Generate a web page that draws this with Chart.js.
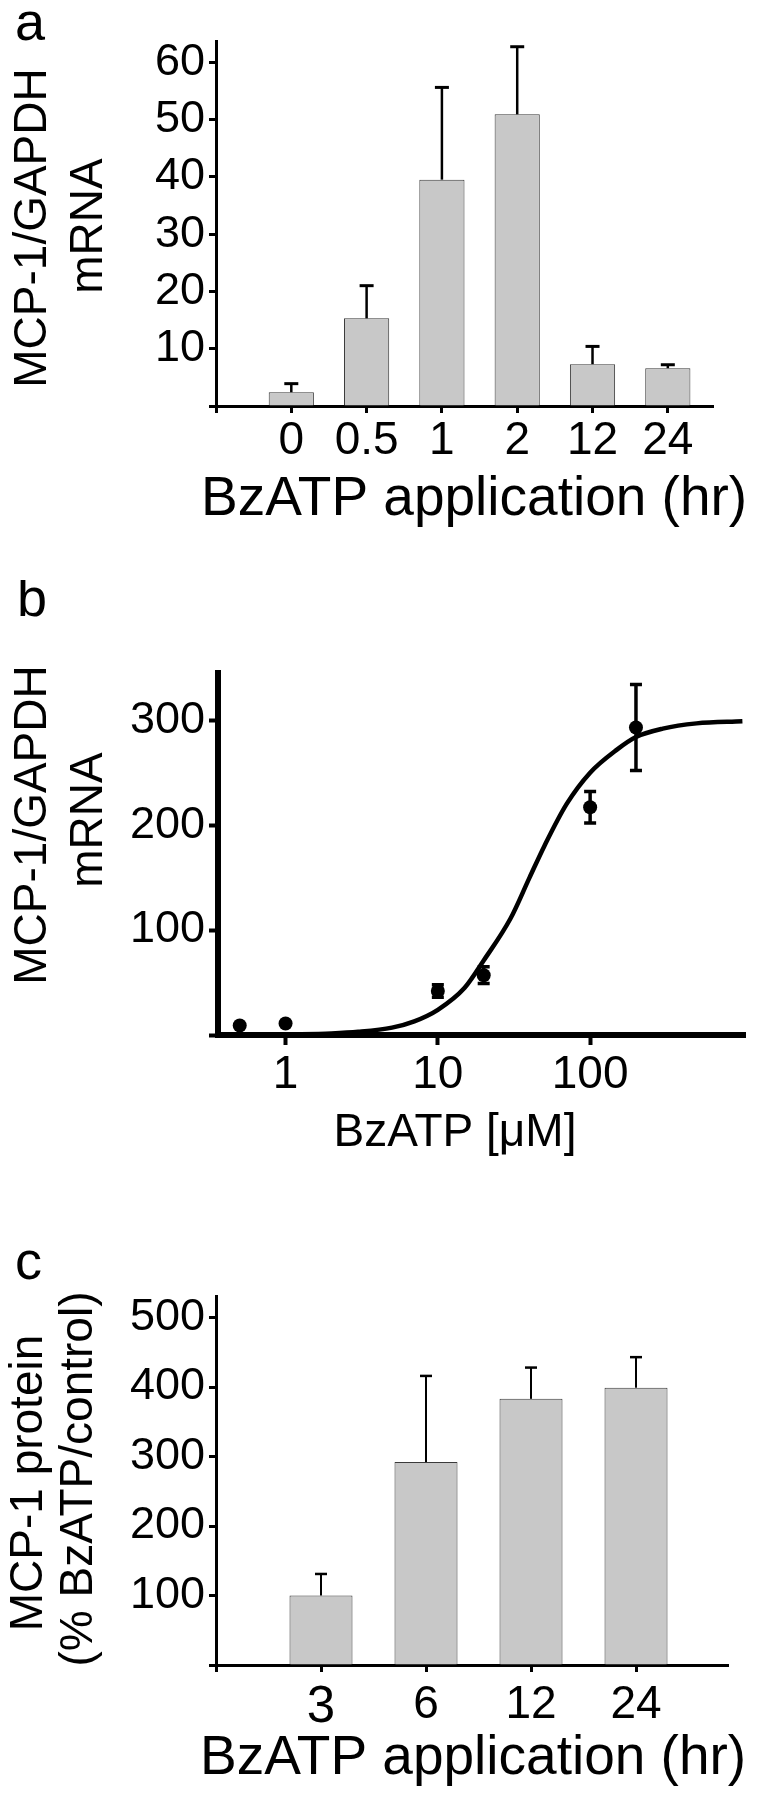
<!DOCTYPE html>
<html>
<head>
<meta charset="utf-8">
<title>MCP-1 and BzATP</title>
<script src="https://cdn.jsdelivr.net/npm/chart.js@4.4.1/dist/chart.umd.min.js"></script>
<style>
  html, body { margin: 0; padding: 0; background: #fff; }
  #page { position: relative; width: 763px; height: 1800px; }
  canvas { position: absolute; left: 0; }
</style>
</head>
<body>
<div id="page">
  <canvas id="chartA" width="763" height="560" style="top:0px"></canvas>
  <canvas id="chartB" width="763" height="580" style="top:580px"></canvas>
  <canvas id="chartC" width="763" height="640" style="top:1160px"></canvas>
</div>
<script>
//Panel a: MCP-1 mRNA over time of BzATP application
var timeLabelsA = ['0', '0.5', '1', '2', '12', '24'];
var mrnaMeanA = [2.4, 15.3, 39.5, 50.9, 7.3, 6.6];
var mrnaErrA = [1.5, 5.7, 16.1, 11.8, 3.1, 0.6];
var yTicksA = [0, 10, 20, 30, 40, 50, 60];

//Panel b: dose response, measured points and the fitted curve
var doseB = [0.5, 1, 10, 20, 100, 200];
var mrnaMeanB = [9, 11, 42, 57, 217, 293];
var mrnaErrB = [0, 0, 6, 8, 15, 41];
var fitDoseB = [1, 2, 3, 5, 7, 10, 15, 20, 30, 40, 50, 70, 100, 150, 200, 300, 500, 1000];
var fitMrnaB = [0.5, 1.5, 3, 7, 13, 24, 45, 71, 111, 150, 180, 220, 250, 272, 284, 292, 297, 299];
var xTicksB = [1, 10, 100];
var yTicksB = [0, 100, 200, 300];

//Panel c: MCP-1 protein over time
var timeLabelsC = ['3', '6', '12', '24'];
var proteinMeanC = [100, 292, 383, 399];
var proteinErrC = [31, 124, 45, 44];
var yTicksC = [0, 100, 200, 300, 400, 500];

var FONT = "'Liberation Sans', Arial, sans-serif";

/*
    Draws error bars for any dataset that carries an 'errors' array.
    Upward only for bars, both ways when errBothWays is set.
*/
var errorBars = {
    id: 'errorBars',
    afterDatasetsDraw: function(chart)
    {
        var ctx = chart.ctx;
        chart.data.datasets.forEach(function(ds, i)
        {
            if (!ds.errors) return;
            var meta = chart.getDatasetMeta(i);
            var yScale = chart.scales[meta.yAxisID];
            ctx.save();
            ctx.strokeStyle = '#000';
            meta.data.forEach(function(el, j)
            {
                var err = ds.errors[j];
                if (!err) return;
                var v = ds.data[j].y;
                var x = el.x;
                var top = yScale.getPixelForValue(v + err);
                var bottom = ds.errBothWays ? yScale.getPixelForValue(v - err) : el.y;
                ctx.lineWidth = ds.errLineWidth;
                ctx.beginPath();
                ctx.moveTo(x, bottom);
                ctx.lineTo(x, top);
                ctx.stroke();
                ctx.lineWidth = ds.capLineWidth;
                ctx.beginPath();
                ctx.moveTo(x - ds.capHalf, top);
                ctx.lineTo(x + ds.capHalf, top);
                if (ds.errBothWays)
                {
                    ctx.moveTo(x - ds.capHalf, bottom);
                    ctx.lineTo(x + ds.capHalf, bottom);
                }
                ctx.stroke();
            });
            ctx.restore();
        });
    }
};

/*
    Free text on the canvas: panel letters and axis titles.
    y is the baseline, rotated items read bottom to top.
*/
function figureText(items)
{
    return {
        id: 'figureText',
        afterDraw: function(chart)
        {
            var ctx = chart.ctx;
            items.forEach(function(t)
            {
                ctx.save();
                ctx.font = t.size + 'px ' + FONT;
                ctx.fillStyle = '#000';
                ctx.textAlign = t.align || 'left';
                ctx.textBaseline = 'alphabetic';
                ctx.translate(t.x, t.y);
                if (t.rotate) ctx.rotate(-Math.PI / 2);
                ctx.fillText(t.text, 0, 0);
                ctx.restore();
            });
        }
    };
}

//Common axis look: black border, outward tick marks, no grid
function axisLook(tickLen, tickWidth, borderWidth)
{
    return {
        border: {display: true, color: '#000', width: borderWidth},
        grid: {drawOnChartArea: false, drawTicks: true, offset: false, tickLength: tickLen,
               tickWidth: tickWidth, tickColor: '#000', color: '#000'}
    };
}

function fixedTicks(list)
{
    return function(scale)
    {
        scale.ticks = list.map(function(v) { return {value: v}; });
    };
}

function tickFont(size)
{
    return {family: FONT, size: size, lineHeight: 1};
}

Chart.defaults.animation = false;
Chart.defaults.color = '#000';

//----- panel a -----
var xA = axisLook(7, 3, 3);
Object.assign(xA, {
    type: 'linear', min: -1, max: 5.6, offset: false, z: 1,
    afterBuildTicks: fixedTicks([-1, 0, 1, 2, 3, 4, 5]),
    afterFit: function(s) { s.height = 154; },
    ticks: {autoSkip: false, maxRotation: 0, padding: 5, font: tickFont(46),
            callback: function(v) { return v < 0 ? '' : timeLabelsA[v]; }}
});
var yA = axisLook(7, 3, 3);
Object.assign(yA, {
    min: 0, max: 63.7, z: 1,
    afterBuildTicks: fixedTicks(yTicksA),
    afterFit: function(s) { s.width = 216; },
    ticks: {autoSkip: false, padding: 4, font: tickFont(45),
            callback: function(v) { return v === 0 ? '' : v; }}
});

new Chart(document.getElementById('chartA'), {
    type: 'bar',
    data: {
        datasets: [{
            data: mrnaMeanA.map(function(v, i) { return {x: i, y: v}; }),
            backgroundColor: '#c8c8c8',
            borderColor: '#3a3a3a',
            borderWidth: 1,
            barPercentage: 0.6,
            categoryPercentage: 1,
            errors: mrnaErrA, errLineWidth: 2.5, capLineWidth: 3, capHalf: 7
        }]
    },
    options: {
        responsive: false,
        devicePixelRatio: 1,
        layout: {padding: {top: 41, right: 50, left: 0, bottom: 0}},
        plugins: {legend: {display: false}, tooltip: {enabled: false}},
        scales: {x: xA, y: yA}
    },
    plugins: [errorBars, figureText([
        {text: 'a', x: 15, y: 40, size: 54},
        {text: 'MCP-1/GAPDH', x: 46, y: 228, size: 46, rotate: true, align: 'center'},
        {text: 'mRNA', x: 102, y: 226, size: 46, rotate: true, align: 'center'},
        {text: 'BzATP application (hr)', x: 201, y: 515, size: 55}
    ])]
});

//----- panel b -----
var xB = axisLook(10, 4, 6);
Object.assign(xB, {
    type: 'logarithmic', min: 0.36, max: 1040, z: 1,
    afterBuildTicks: fixedTicks(xTicksB),
    afterFit: function(s) { s.height = 125; },
    ticks: {autoSkip: false, maxRotation: 0, padding: 7, font: tickFont(46),
            callback: function(v) { return String(v); }}
});
var yB = axisLook(9, 4, 6);
Object.assign(yB, {
    type: 'linear', min: 0, max: 345, z: 1,
    afterBuildTicks: fixedTicks(yTicksB),
    afterFit: function(s) { s.width = 218; },
    ticks: {autoSkip: false, padding: 4, font: tickFont(45),
            callback: function(v) { return v === 0 ? '' : v; }}
});

new Chart(document.getElementById('chartB'), {
    type: 'scatter',
    data: {
        datasets: [{
            type: 'line',
            data: fitDoseB.map(function(d, i) { return {x: d, y: fitMrnaB[i]}; }),
            borderColor: '#000',
            borderWidth: 4.5,
            pointRadius: 0,
            cubicInterpolationMode: 'monotone',
            fill: false,
            clip: false
        }, {
            type: 'scatter',
            data: doseB.map(function(d, i) { return {x: d, y: mrnaMeanB[i]}; }),
            pointRadius: 7,
            pointBackgroundColor: '#000',
            pointBorderWidth: 0,
            clip: false,
            errors: mrnaErrB, errBothWays: true, errLineWidth: 3.5, capLineWidth: 3.5, capHalf: 6
        }]
    },
    options: {
        responsive: false,
        devicePixelRatio: 1,
        layout: {padding: {top: 93, right: 18, left: 0, bottom: 0}},
        plugins: {legend: {display: false}, tooltip: {enabled: false}},
        scales: {x: xB, y: yB}
    },
    plugins: [errorBars, figureText([
        {text: 'b', x: 17, y: 36, size: 54},
        {text: 'MCP-1/GAPDH', x: 46, y: 245, size: 46, rotate: true, align: 'center'},
        {text: 'mRNA', x: 102, y: 240, size: 46, rotate: true, align: 'center'},
        {text: 'BzATP [\u03BCM]', x: 455, y: 566, size: 46, align: 'center'}
    ])]
});

//----- panel c -----
var xC = axisLook(7, 3, 3);
Object.assign(xC, {
    type: 'linear', min: -1, max: 3.876, offset: false, z: 1,
    afterBuildTicks: fixedTicks([-1, 0, 1, 2, 3]),
    afterFit: function(s) { s.height = 135; },
    ticks: {autoSkip: false, maxRotation: 0, padding: 10,
            font: function(c) { return tickFont(c.tick && c.tick.value === 0 ? 51 : 46); },
            callback: function(v) { return v < 0 ? '' : timeLabelsC[v]; }}
});
var yC = axisLook(7, 3, 3);
Object.assign(yC, {
    min: 0, max: 531, z: 1,
    afterBuildTicks: fixedTicks(yTicksC),
    afterFit: function(s) { s.width = 216; },
    ticks: {autoSkip: false, padding: 4, font: tickFont(45),
            callback: function(v) { return v === 0 ? '' : v; }}
});

new Chart(document.getElementById('chartC'), {
    type: 'bar',
    data: {
        datasets: [{
            data: proteinMeanC.map(function(v, i) { return {x: i, y: v}; }),
            backgroundColor: '#c8c8c8',
            borderColor: '#3a3a3a',
            borderWidth: 1,
            barPercentage: 0.6,
            categoryPercentage: 1,
            errors: proteinErrC, errLineWidth: 2, capLineWidth: 2.5, capHalf: 6
        }]
    },
    options: {
        responsive: false,
        devicePixelRatio: 1,
        layout: {padding: {top: 136, right: 35, left: 0, bottom: 0}},
        plugins: {legend: {display: false}, tooltip: {enabled: false}},
        scales: {x: xC, y: yC}
    },
    plugins: [errorBars, figureText([
        {text: 'c', x: 15, y: 119, size: 54},
        {text: 'MCP-1 protein', x: 42, y: 323, size: 46, rotate: true, align: 'center'},
        {text: '(% BzATP/control)', x: 92, y: 319, size: 46, rotate: true, align: 'center'},
        {text: 'BzATP application (hr)', x: 200, y: 614, size: 55}
    ])]
});
</script>
</body>
</html>
